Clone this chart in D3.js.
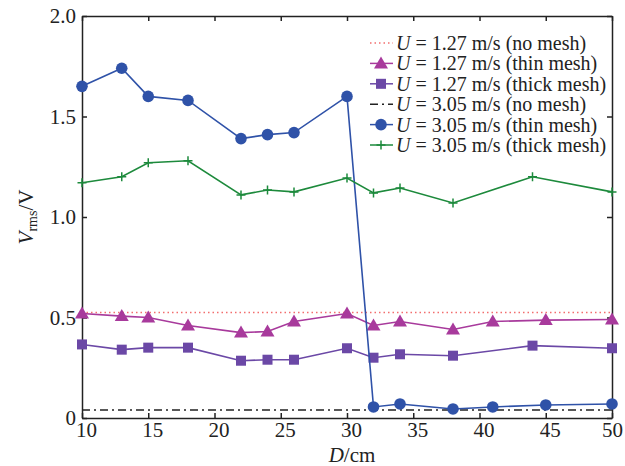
<!DOCTYPE html>
<html lang="en">
<head>
  <meta charset="UTF-8">
  <title>Vrms vs D</title>
  <script src="https://d3js.org/d3.v7.min.js"></script>
  <style>
    body { margin: 0; background: #fff; }
    text { font-family: "Liberation Serif", "DejaVu Serif", serif; fill: #222; }
    .axis path, .axis line { stroke: #222; stroke-width: 1.5px; }
  </style>
</head>
<body>
  <svg width="625" height="466"></svg>

  <script>
    // distance positions (cm)
    const xFull = [10, 13, 15, 18, 22, 24, 26, 30, 32, 34, 38, 41, 45, 50];
    const xThick = [10, 13, 15, 18, 22, 24, 26, 30, 32, 34, 38, 44, 50];

    // U = 1.27 m/s
    const u127NoMesh = [0.525, 0.525];
    const u127Thin = [0.52, 0.507, 0.50, 0.46, 0.425, 0.43, 0.48, 0.52, 0.46, 0.48, 0.44, 0.48, 0.487, 0.49];
    const u127Thick = [0.366, 0.34, 0.35, 0.35, 0.285, 0.29, 0.29, 0.347, 0.30, 0.317, 0.31, 0.36, 0.347];

    // U = 3.05 m/s
    const u305NoMesh = [0.04, 0.04];
    const u305Thin = [1.65, 1.74, 1.60, 1.58, 1.39, 1.41, 1.42, 1.60, 0.055, 0.07, 0.045, 0.055, 0.065, 0.07];
    const u305Thick = [1.17, 1.20, 1.27, 1.28, 1.11, 1.134, 1.125, 1.194, 1.12, 1.144, 1.07, 1.20, 1.125];

    const xTicks = [10, 15, 20, 25, 30, 35, 40, 45, 50];
    const yTicks = [0, 0.5, 1.0, 1.5, 2.0];

    const series = [
      { label: "1.27 m/s (no mesh)", xs: [10, 50], ys: u127NoMesh, color: "#f26d6d", dash: "1.5,3", marker: null },
      { label: "1.27 m/s (thin mesh)", xs: xFull, ys: u127Thin, color: "#a83a9c", dash: null, marker: "triangle" },
      { label: "1.27 m/s (thick mesh)", xs: xThick, ys: u127Thick, color: "#6b48a6", dash: null, marker: "square" },
      { label: "3.05 m/s (no mesh)", xs: [10, 50], ys: u305NoMesh, color: "#222", dash: "8,4,2,4", marker: null },
      { label: "3.05 m/s (thin mesh)", xs: xFull, ys: u305Thin, color: "#2f52a8", dash: null, marker: "circle" },
      { label: "3.05 m/s (thick mesh)", xs: xThick, ys: u305Thick, color: "#1d8a3c", dash: null, marker: "cross" }
    ];

    const svg = d3.select("svg");
    const mLeft = 82, mRight = 612, mTop = 16, mBottom = 418;

    const x = d3.scaleLinear().domain([10, 50]).range([mLeft, mRight]);
    const y = d3.scaleLinear().domain([0, 2]).range([mBottom, mTop]);

    const fmtY = d => d === 0 ? "0" : d3.format(".1f")(d);

    // axes with inward ticks
    svg.append("g").attr("class", "axis")
      .attr("transform", `translate(0,${mBottom})`)
      .call(d3.axisBottom(x).tickValues(xTicks).tickSize(-5).tickSizeOuter(0))
      .call(g => g.selectAll("text").attr("font-size", 21).attr("y", 19).attr("dy", 0)
        .attr("dx", d => d === 50 ? 0 : 4));
    svg.append("g").attr("class", "axis")
      .attr("transform", `translate(0,${mTop})`)
      .call(d3.axisTop(x).tickValues(xTicks).tickSize(-5).tickSizeOuter(0).tickFormat(""));
    svg.append("g").attr("class", "axis")
      .attr("transform", `translate(${mLeft},0)`)
      .call(d3.axisLeft(y).tickValues(yTicks).tickSize(-5).tickSizeOuter(0).tickPadding(6).tickFormat(fmtY))
      .call(g => g.selectAll("text").attr("font-size", 21));
    svg.append("g").attr("class", "axis")
      .attr("transform", `translate(${mRight},0)`)
      .call(d3.axisRight(y).tickValues(yTicks).tickSize(-5).tickSizeOuter(0).tickFormat(""));

    // axis titles
    const xt = svg.append("text").attr("x", 352).attr("y", 462)
      .attr("text-anchor", "middle").attr("font-size", 21);
    xt.append("tspan").attr("font-style", "italic").text("D");
    xt.append("tspan").text("/cm");

    const yt = svg.append("text")
      .attr("transform", `translate(33,${(mTop + mBottom) / 2}) rotate(-90)`)
      .attr("text-anchor", "middle").attr("font-size", 21);
    yt.append("tspan").attr("font-style", "italic").text("V");
    yt.append("tspan").attr("font-size", 14).attr("dy", 4).text("rms");
    yt.append("tspan").attr("dy", -4).text("/V");

    const line = d3.line().x(d => x(d[0])).y(d => y(d[1]));

    function drawMarker(g, type, cx, cy, color) {
      if (type === "circle") {
        g.append("circle").attr("cx", cx).attr("cy", cy).attr("r", 5.8).attr("fill", color);
      } else if (type === "square") {
        g.append("rect").attr("x", cx - 5).attr("y", cy - 5).attr("width", 10).attr("height", 10).attr("fill", color);
      } else if (type === "triangle") {
        g.append("path").attr("d", `M${cx},${cy - 7}L${cx + 7},${cy + 5}L${cx - 7},${cy + 5}Z`).attr("fill", color);
      } else if (type === "cross") {
        g.append("path").attr("d", `M${cx - 4.5},${cy}H${cx + 4.5}M${cx},${cy - 4.5}V${cy + 4.5}`)
          .attr("stroke", color).attr("stroke-width", 1.5);
      }
    }

    const plot = svg.append("g");
    series.forEach(s => {
      const pts = s.xs.map((v, i) => [v, s.ys[i]]);
      plot.append("path").attr("d", line(pts))
        .attr("fill", "none").attr("stroke", s.color)
        .attr("stroke-width", s.marker ? 1.6 : 1.4)
        .attr("stroke-dasharray", s.dash);
      if (s.marker) pts.forEach(p => drawMarker(plot, s.marker, x(p[0]), y(p[1]), s.color));
    });

    // legend
    const lg = svg.append("g");
    series.forEach((s, i) => {
      const ly = 43 + i * 20.4;
      lg.append("line").attr("x1", 370).attr("x2", 393).attr("y1", ly).attr("y2", ly)
        .attr("stroke", s.color).attr("stroke-width", 1.5).attr("stroke-dasharray", s.dash);
      if (s.marker) drawMarker(lg, s.marker, 381, ly, s.color);
      const t = lg.append("text").attr("x", 396).attr("y", ly + 7).attr("font-size", 20);
      t.append("tspan").attr("font-style", "italic").text("U");
      t.append("tspan").text(" = " + s.label);
    });
  </script>
</body>
</html>
